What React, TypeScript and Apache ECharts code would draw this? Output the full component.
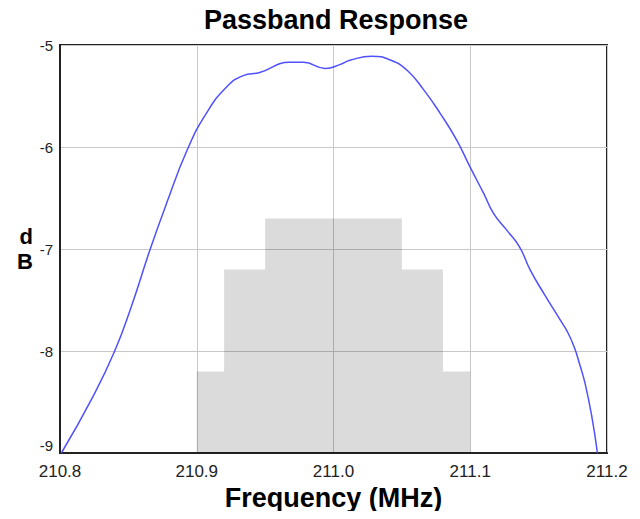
import React, { useEffect, useRef } from "react";
import * as echarts from "echarts";

const freqMHz = [
  210.801, 210.824, 210.84, 210.852, 210.866, 210.878, 210.893, 210.907, 210.922,
  210.934, 210.946, 210.968, 210.978, 210.994, 211.005, 211.012, 211.028, 211.042,
  211.054, 211.066, 211.078, 211.09, 211.1, 211.11, 211.117, 211.127, 211.136,
  211.144, 211.154, 211.166, 211.171, 211.176, 211.18, 211.184, 211.189, 211.193,
];
const responseDb = [
  -9.0, -8.45, -8.0, -7.57, -7.0, -6.55, -6.03, -5.67, -5.41,
  -5.3, -5.27, -5.17, -5.17, -5.23, -5.19, -5.15, -5.11, -5.15,
  -5.25, -5.44, -5.67, -5.93, -6.2, -6.46, -6.65, -6.82, -6.98,
  -7.21, -7.44, -7.7, -7.81, -7.96, -8.13, -8.32, -8.65, -9.0,
];

const maskEdges = [210.9, 210.92, 210.95, 211.05, 211.08, 211.1];
const maskLevels = [-8.2, -7.2, -6.7, -7.2, -8.2, -8.2];

const xTicks = ["210.8", "210.9", "211.0", "211.1", "211.2"];
const yTicks = [-9, -8, -7, -6, -5];

export default function App() {
  const ref = useRef<HTMLDivElement>(null);
  useEffect(() => {
    if (!ref.current) return;
    const chart = echarts.init(ref.current, null, { renderer: "svg" });
    const font = "Liberation Sans, Arial, sans-serif";
    chart.setOption({
      animation: false,
      textStyle: { fontFamily: font },
      title: {
        text: "Passband Response",
        left: 331,
        textAlign: "center",
        top: 1,
        textStyle: { fontSize: 27, fontWeight: "bold", color: "#000", fontFamily: font },
      },
      grid: {
        left: 60,
        right: 33,
        top: 45,
        bottom: 66,
        show: true,
        borderColor: "#222",
        borderWidth: 2,
        outerBoundsMode: "none",
        containLabel: false,
      },
      xAxis: {
        type: "value",
        min: 210.8,
        max: 211.2,
        interval: 0.1,
        name: "Frequency (MHz)",
        nameLocation: "middle",
        nameGap: 31,
        nameTextStyle: { fontSize: 27, fontWeight: "bold", color: "#000", fontFamily: font },
        axisLine: { show: true, lineStyle: { color: "#222", width: 2 } },
        axisTick: { show: false },
        axisLabel: {
          fontSize: 17,
          color: "#222",
          margin: 10,
          formatter: (v: number) => {
            const s = v.toFixed(1);
            return xTicks.includes(s) ? s : "";
          },
        },
        splitLine: { show: true, lineStyle: { color: "#c8c8c8", width: 1 } },
      },
      yAxis: {
        type: "value",
        min: yTicks[0],
        max: yTicks[yTicks.length - 1],
        interval: 1,
        name: "d\nB",
        nameLocation: "middle",
        nameRotate: 0,
        nameGap: 27,
        nameTextStyle: { fontSize: 22, fontWeight: "bold", color: "#000", lineHeight: 25, fontFamily: font, padding: [4, 0, 0, 0] },
        axisLine: { show: true, lineStyle: { color: "#222", width: 2 } },
        axisTick: { show: false },
        axisLabel: { fontSize: 15, color: "#222", margin: 7, verticalAlignMinLabel: "bottom" },
        splitLine: { show: true, lineStyle: { color: "#c8c8c8", width: 1 } },
      },
      series: [
        {
          type: "line",
          step: "end",
          data: maskEdges.map((f, i) => [f, maskLevels[i]]),
          showSymbol: false,
          lineStyle: { width: 0 },
          areaStyle: { color: "rgba(0,0,0,0.14)", origin: "start", opacity: 1 },
          silent: true,
          z: 2,
        },
        {
          type: "line",
          data: freqMHz.map((f, i) => [f, responseDb[i]]),
          showSymbol: false,
          smooth: 0.5,
          lineStyle: { color: "#5050ff", width: 1.5 },
          z: 3,
        },
      ],
    });
    return () => chart.dispose();
  }, []);
  return <div ref={ref} style={{ width: 640, height: 519, margin: -8 }} />;
}
